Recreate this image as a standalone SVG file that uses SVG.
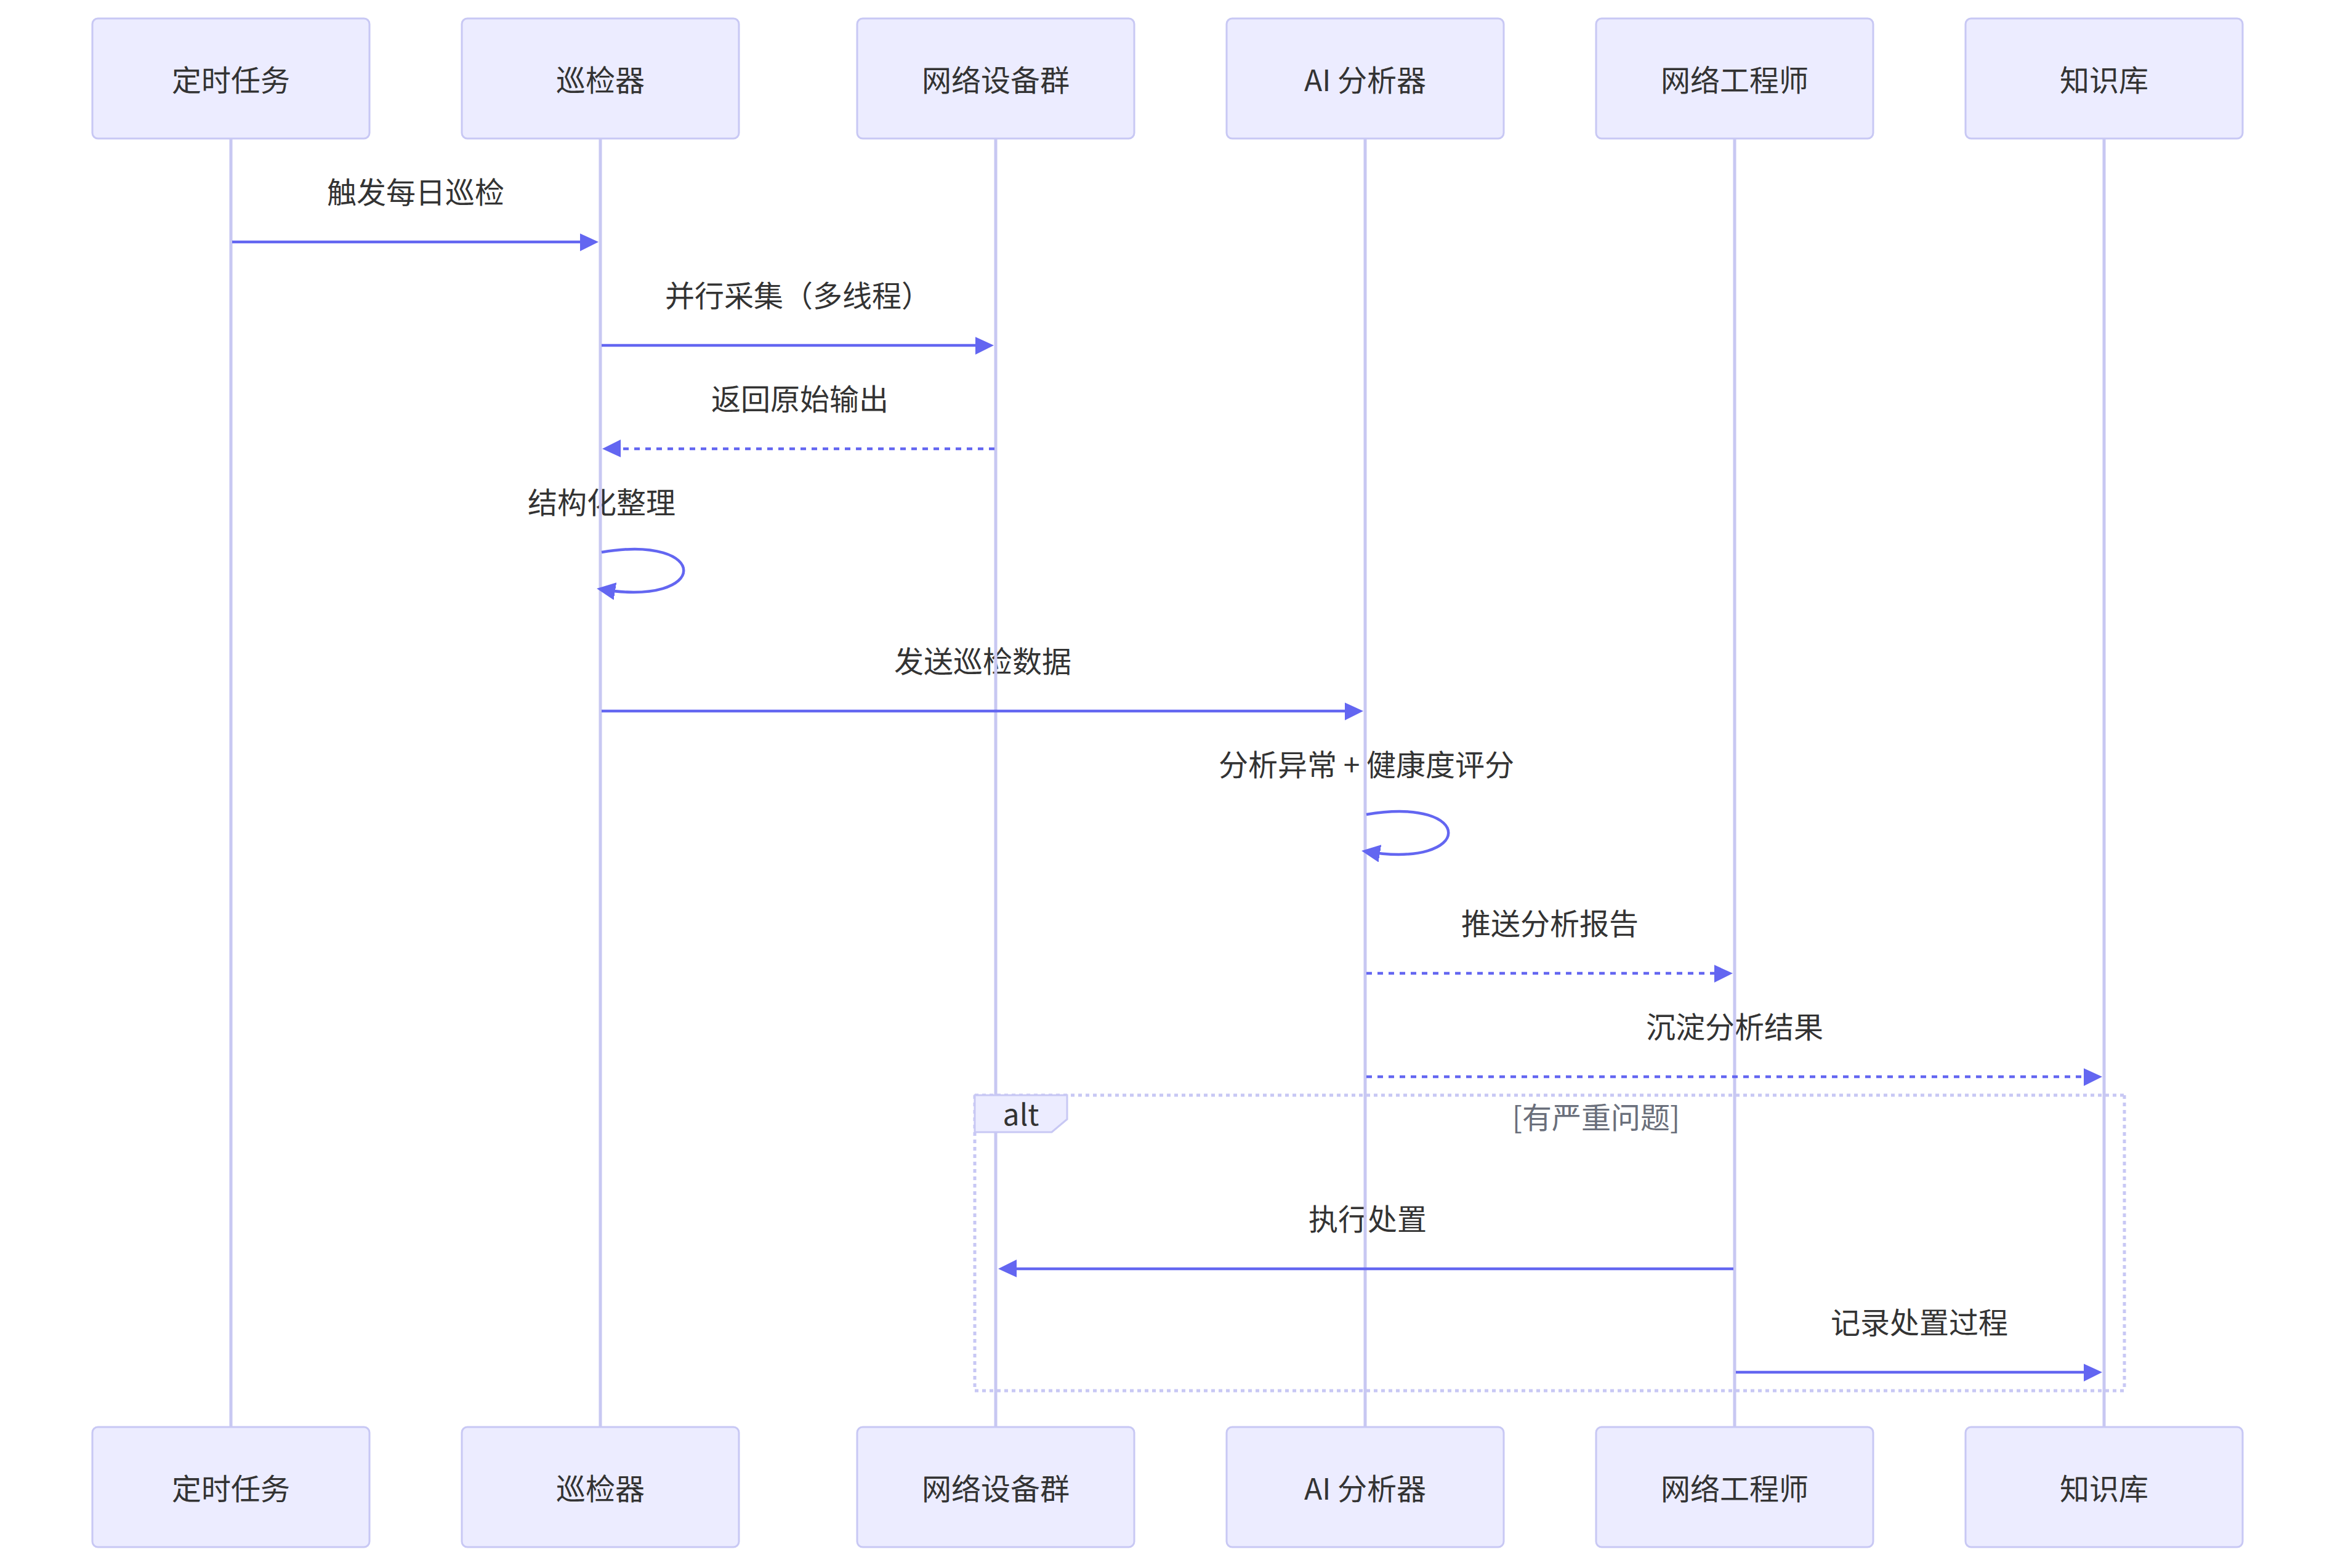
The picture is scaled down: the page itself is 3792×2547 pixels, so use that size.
<svg xmlns="http://www.w3.org/2000/svg" width="3792" height="2547" viewBox="0 0 3792 2547">
<style>
text{font-family:"Noto Sans CJK SC","Noto Sans",sans-serif;font-size:48px;fill:#333;text-anchor:middle;dominant-baseline:central}
.actor{fill:#ECECFF;stroke:#c8c8f4;stroke-width:3}
.life{stroke:#c8c8f2;stroke-width:5;fill:none}
.msg{stroke:#6366f1;stroke-width:4.5;fill:none;marker-end:url(#ah)}
.dot{stroke-dasharray:9,9}
.loop{stroke:#c8c8f4;stroke-width:5;stroke-dasharray:6,6;fill:none}
.cond{fill:#6a6f7b}
</style>
<defs>
<marker id="ah" markerUnits="userSpaceOnUse" markerWidth="40" markerHeight="40" refX="24" refY="15" orient="auto">
<path d="M -3 0 L 30 15 L 0 30 z" fill="#6366f1"/>
</marker>
</defs>
<rect width="3792" height="2547" fill="#fff"/>
<g id="labels">
<text x="675" y="309">触发每日巡检</text>
<text x="1296" y="477">并行采集（多线程）</text>
<text x="1299" y="645">返回原始输出</text>
<text x="977" y="813">结构化整理</text>
<text x="1596" y="1071">发送巡检数据</text>
<text x="2219" y="1239">分析异常 + 健康度评分</text>
<text x="2517" y="1497">推送分析报告</text>
<text x="2817" y="1665">沉淀分析结果</text>
<text x="2221" y="1977">执行处置</text>
<text x="3117" y="2145">记录处置过程</text>
</g>
<g id="lifelines">
<line class="life" x1="375" y1="225" x2="375" y2="2318"/>
<line class="life" x1="975" y1="225" x2="975" y2="2318"/>
<line class="life" x1="1617" y1="225" x2="1617" y2="2318"/>
<line class="life" x1="2217" y1="225" x2="2217" y2="2318"/>
<line class="life" x1="2817" y1="225" x2="2817" y2="2318"/>
<line class="life" x1="3417" y1="225" x2="3417" y2="2318"/>
</g>
<g id="connectors">
<line class="msg" x1="377" y1="393" x2="966" y2="393"/>
<line class="msg" x1="977" y1="561" x2="1608" y2="561"/>
<line class="msg dot" x1="1615" y1="729" x2="984" y2="729"/>
<path class="msg" d="M 977 897 C 1155 867 1155 987 975 957"/>
<line class="msg" x1="977" y1="1155" x2="2208" y2="1155"/>
<path class="msg" d="M 2219 1323 C 2397 1293 2397 1413 2217 1383"/>
<line class="msg dot" x1="2219" y1="1581" x2="2808" y2="1581"/>
<line class="msg dot" x1="2219" y1="1749" x2="3408" y2="1749"/>
<line class="msg" x1="2815" y1="2061" x2="1627" y2="2061"/>
<line class="msg" x1="2819" y1="2229" x2="3408" y2="2229"/>
</g>
<g id="alt">
<line class="loop" x1="1583" y1="1779" x2="3450" y2="1779"/>
<line class="loop" x1="3450" y1="1779" x2="3450" y2="2259"/>
<line class="loop" x1="1583" y1="2259" x2="3450" y2="2259"/>
<line class="loop" x1="1583" y1="1779" x2="1583" y2="2259"/>
<polygon points="1583,1779 1733,1779 1733,1818 1708,1839 1583,1839" fill="#ECECFF" stroke="#c8c8f4" stroke-width="3"/>
<text x="1658" y="1807">alt</text>
<text class="cond" x="2592" y="1812">[有严重问题]</text>
</g>
<g id="actor-top-timer"><rect class="actor" x="150" y="30" width="450" height="195" rx="9"/><text x="375" y="127">定时任务</text></g>
<g id="actor-top-inspector"><rect class="actor" x="750" y="30" width="450" height="195" rx="9"/><text x="975" y="127">巡检器</text></g>
<g id="actor-top-devices"><rect class="actor" x="1392" y="30" width="450" height="195" rx="9"/><text x="1617" y="127">网络设备群</text></g>
<g id="actor-top-ai"><rect class="actor" x="1992" y="30" width="450" height="195" rx="9"/><text x="2217" y="127">AI 分析器</text></g>
<g id="actor-top-engineer"><rect class="actor" x="2592" y="30" width="450" height="195" rx="9"/><text x="2817" y="127">网络工程师</text></g>
<g id="actor-top-kb"><rect class="actor" x="3192" y="30" width="450" height="195" rx="9"/><text x="3417" y="127">知识库</text></g>
<g id="actor-bottom-timer"><rect class="actor" x="150" y="2318" width="450" height="195" rx="9"/><text x="375" y="2415">定时任务</text></g>
<g id="actor-bottom-inspector"><rect class="actor" x="750" y="2318" width="450" height="195" rx="9"/><text x="975" y="2415">巡检器</text></g>
<g id="actor-bottom-devices"><rect class="actor" x="1392" y="2318" width="450" height="195" rx="9"/><text x="1617" y="2415">网络设备群</text></g>
<g id="actor-bottom-ai"><rect class="actor" x="1992" y="2318" width="450" height="195" rx="9"/><text x="2217" y="2415">AI 分析器</text></g>
<g id="actor-bottom-engineer"><rect class="actor" x="2592" y="2318" width="450" height="195" rx="9"/><text x="2817" y="2415">网络工程师</text></g>
<g id="actor-bottom-kb"><rect class="actor" x="3192" y="2318" width="450" height="195" rx="9"/><text x="3417" y="2415">知识库</text></g>
</svg>
